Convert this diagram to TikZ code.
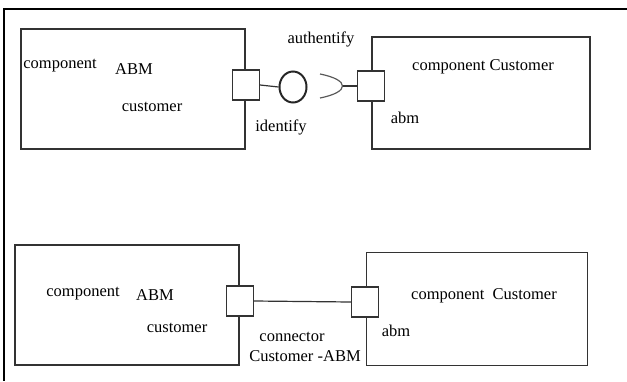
\documentclass[tikz,border=0pt]{standalone}
\usepackage{fontspec}
\setmainfont{Liberation Serif}
\usetikzlibrary{shapes.geometric}

\begin{document}
\begin{tikzpicture}[x=1pt,y=-1pt,
  comp/.style={draw=black!80,line width=1.2pt,inner sep=0pt},
  port/.style={draw=black!80,fill=white,line width=1.2pt,minimum width=27pt,minimum height=30pt,inner sep=0pt},
  lbl/.style={inner sep=0pt,font=\fontsize{16.5}{18}\selectfont}]
  \useasboundingbox (0,0) rectangle (627,381);
  \draw[line width=1.2pt] (627,9) -- (4,9) -- (4,381);
  % provided / required interface
  \node[comp,minimum width=224pt,minimum height=120pt] (abm1) at (133,89) {};
  \node[comp,minimum width=218pt,minimum height=112pt] (cust1) at (481,93) {};
  \node[port] (p1) at (246,85) {};
  \node[port] (q1) at (371,86) {};
  \node[draw=black!85,ellipse,line width=2pt,minimum width=27pt,minimum height=31pt,inner sep=0pt] (ball) at (293,87) {};
  \coordinate (tip) at (342,86);
  \coordinate (s1) at (320,74);
  \coordinate (s2) at (320,98);
  \draw[comp] (p1.east) -- (ball.west);
  \draw[comp] (tip) -- (q1.west);
  \draw[comp,black!65] (s1) .. controls +(30,6) and +(30,-6) .. (s2);
  \node[lbl] at (60,66) {component};
  \node[lbl] at (134,69) {ABM};
  \node[lbl] at (152,107) {customer};
  \node[lbl] at (321,39) {authentify};
  \node[lbl] at (281,127) {identify};
  \node[lbl] at (483,67) {component Customer};
  \node[lbl] at (405,118) {abm};
  % assembly connector
  \node[comp,minimum width=224pt,minimum height=120pt] (abm2) at (127,305) {};
  \node[comp,minimum width=221pt,minimum height=113pt] (cust2) at (477,309) {};
  \node[port] (p2) at (240,301) {};
  \node[port] (q2) at (365,302) {};
  \draw[comp] (p2.east) -- (q2.west);
  \node[lbl] at (83,294) {component};
  \node[lbl] at (155,295) {ABM};
  \node[lbl] at (177,328) {customer};
  \node[lbl] at (292,337) {connector};
  \node[lbl] at (305,356) {Customer -ABM};
  \node[lbl] at (484,296) {component\hspace{4pt} Customer};
  \node[lbl] at (396,331) {abm};
\end{tikzpicture}
\end{document}
